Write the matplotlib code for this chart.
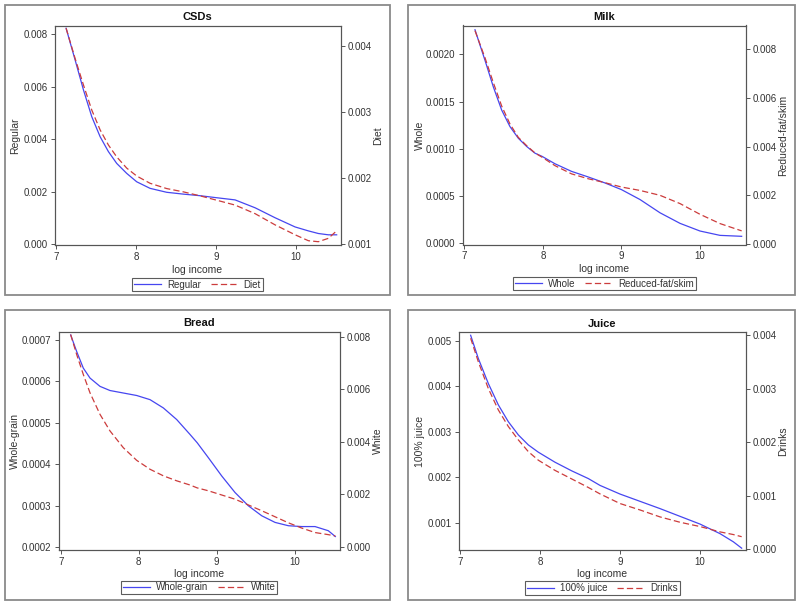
import matplotlib
matplotlib.use("Agg")
import matplotlib.pyplot as plt
from matplotlib.patches import Rectangle
from matplotlib.lines import Line2D
from matplotlib.ticker import FormatStrFormatter

plt.rcParams['font.family'] = ['Liberation Sans', 'DejaVu Sans']

W, H = 800, 605
BLUE = '#4646f0'
RED = '#cc3c3c'

# --- data (log income vs. budget share, x1e-3) ---
csd_x = [7.125, 7.238, 7.342, 7.446, 7.55, 7.654, 7.758, 7.883, 8.008, 8.175, 8.383,
         8.592, 8.80, 8.988, 9.238, 9.488, 9.738, 9.988, 10.154, 10.279, 10.404, 10.508]
csd_regular = [8.22, 7.01, 5.87, 4.85, 4.09, 3.52, 3.07, 2.69, 2.37, 2.12, 1.97,
               1.90, 1.84, 1.77, 1.68, 1.38, 1.00, 0.65, 0.50, 0.40, 0.35, 0.35]
csd_diet = [4.27, 3.81, 3.41, 3.03, 2.73, 2.50, 2.32, 2.15, 2.03, 1.92, 1.84,
            1.79, 1.73, 1.67, 1.59, 1.46, 1.29, 1.14, 1.05, 1.035, 1.086, 1.20]

milk_x = [7.136, 7.263, 7.369, 7.475, 7.581, 7.687, 7.793, 7.899, 7.992, 8.153, 8.365,
          8.577, 8.789, 9.0, 9.236, 9.49, 9.745, 9.999, 10.253, 10.529]
milk_whole = [2.26, 1.937, 1.656, 1.411, 1.235, 1.112, 1.025, 0.954, 0.919, 0.842, 0.761,
              0.702, 0.639, 0.568, 0.463, 0.323, 0.211, 0.130, 0.084, 0.074]
milk_reduced = [8.76, 7.65, 6.63, 5.67, 4.93, 4.38, 4.04, 3.74, 3.56, 3.22, 2.88,
                2.68, 2.52, 2.34, 2.20, 2.00, 1.66, 1.22, 0.84, 0.54]

bread_x = [7.128, 7.205, 7.29, 7.376, 7.504, 7.632, 7.803, 7.974, 8.145, 8.316, 8.487,
           8.658, 8.75, 8.893, 9.064, 9.235, 9.406, 9.577, 9.748, 9.919, 10.09, 10.26,
           10.43, 10.52]
# whole-grain in units of 1e-4
bread_whole = [7.12, 6.72, 6.32, 6.08, 5.88, 5.78, 5.72, 5.66, 5.56, 5.36, 5.08,
               4.72, 4.52, 4.16, 3.72, 3.32, 3.0, 2.76, 2.6, 2.52, 2.5, 2.5,
               2.40, 2.26]
bread_white = [8.08, 7.32, 6.56, 5.86, 5.04, 4.41, 3.77, 3.29, 2.95, 2.70, 2.51,
               2.35, 2.24, 2.13, 1.97, 1.81, 1.59, 1.37, 1.14, 0.91, 0.71, 0.54,
               0.46, 0.41]

juice_x = [7.133, 7.229, 7.354, 7.479, 7.604, 7.729, 7.854, 7.979, 8.187, 8.396, 8.604,
           8.75, 9.0, 9.25, 9.5, 9.75, 10.0, 10.25, 10.417, 10.521]
juice_100 = [5.12, 4.61, 4.06, 3.59, 3.22, 2.93, 2.71, 2.55, 2.33, 2.14, 1.97,
             1.82, 1.63, 1.47, 1.31, 1.14, 0.97, 0.76, 0.58, 0.44]
juice_drinks = [3.94, 3.50, 3.00, 2.60, 2.29, 2.04, 1.82, 1.66, 1.47, 1.31, 1.15,
                1.03, 0.85, 0.73, 0.60, 0.50, 0.42, 0.32, 0.27, 0.23]


def px_box(l, t, r, b):
    return [l / W, 1 - b / H, (r - l) / W, (b - t) / H]


def panel(fig, frame, axbox, title, x, y1, y2, lab1, lab2, xlim, lim1, lim2,
          ticks1, ticks2, fmt1, fmt2, ylab_x, xlab_y, legend_xy, scale1=1e-3):
    fl, ft, fr, fb = frame
    fig.add_artist(Rectangle((fl / W, 1 - fb / H), (fr - fl) / W, (fb - ft) / H,
                             transform=fig.transFigure, fill=False,
                             edgecolor='#8a8a8a', lw=1.3))
    ax = fig.add_axes(px_box(*axbox))
    ax2 = ax.twinx()
    ax.plot(x, [v * scale1 for v in y1], color=BLUE, lw=0.9)
    ax2.plot(x, [v * 1e-3 for v in y2], color=RED, lw=0.9, dashes=(5, 2.5))
    ax.set_xlim(*xlim)
    ax.set_ylim(*lim1)
    ax2.set_ylim(*lim2)
    ax.set_xticks([7, 8, 9, 10])
    ax.set_yticks(ticks1)
    ax2.set_yticks(ticks2)
    ax.yaxis.set_major_formatter(FormatStrFormatter(fmt1))
    ax2.yaxis.set_major_formatter(FormatStrFormatter(fmt2))
    for a in (ax, ax2):
        for s in a.spines.values():
            s.set_color('#555555')
            s.set_linewidth(0.8)
        a.tick_params(labelsize=7, length=3, width=0.7, color='#555555',
                      labelcolor='#333333', pad=2)
    ax.set_title(title, fontsize=8, fontweight='bold', pad=4, color='#111111')

    l, t, r, b = axbox
    ax.set_xlabel('log income', fontsize=7.5, color='#333333', va='center')
    ax.xaxis.set_label_coords(0.5, (b - xlab_y) / (b - t))
    ax.set_ylabel(lab1, fontsize=7.5, color='#333333', va='center')
    ax2.set_ylabel(lab2, fontsize=7.5, color='#333333', rotation=90, va='center')
    ax.yaxis.set_label_coords((ylab_x[0] - l) / (r - l), 0.5)
    ax2.yaxis.set_label_coords((ylab_x[1] - l) / (r - l), 0.5)

    handles = [Line2D([], [], color=BLUE, lw=0.9),
               Line2D([], [], color=RED, lw=0.9, dashes=(5, 2.5))]
    leg = ax.legend(handles, [lab1, lab2], loc='center', ncol=2,
                    bbox_to_anchor=(legend_xy[0] / W, 1 - legend_xy[1] / H),
                    bbox_transform=fig.transFigure, fontsize=7, frameon=True,
                    fancybox=False, handlelength=2.8, handletextpad=0.6,
                    columnspacing=1.0, borderpad=0.2, borderaxespad=0)
    leg.get_frame().set_edgecolor('#333333')
    leg.get_frame().set_linewidth(0.8)
    for txt in leg.get_texts():
        txt.set_color('#333333')


fig = plt.figure(figsize=(8, 6.05), dpi=100)

panel(fig, (5, 5, 390, 295), (54.5, 25.5, 340.5, 245), 'CSDs',
      csd_x, csd_regular, csd_diet, 'Regular', 'Diet',
      (6.98, 10.556), (-0.000038, 0.008324), (0.000985, 0.004311),
      [0, 0.002, 0.004, 0.006, 0.008], [0.001, 0.002, 0.003, 0.004],
      '%.3f', '%.3f', (15, 378), 270, (197.5, 284.5))

panel(fig, (408, 5, 795, 295), (462.5, 25.5, 745.5, 244.5), 'Milk',
      milk_x, milk_whole, milk_reduced, 'Whole', 'Reduced-fat/skim',
      (6.977, 10.578), (-0.0000127, 0.002305), (-0.00002, 0.008974),
      [0, 0.0005, 0.001, 0.0015, 0.002], [0, 0.002, 0.004, 0.006, 0.008],
      '%.4f', '%.3f', (420, 783), 269, (604.5, 283.5))

panel(fig, (5, 310, 390, 600), (58.5, 331.5, 340, 550), 'Bread',
      bread_x, bread_whole, bread_white, 'Whole-grain', 'White',
      (6.972, 10.58), (0.0001935, 0.0007203), (-0.000125, 0.008197),
      [0.0002, 0.0003, 0.0004, 0.0005, 0.0006, 0.0007], [0, 0.002, 0.004, 0.006, 0.008],
      '%.4f', '%.3f', (15, 378), 574, (199, 587.5), scale1=1e-4)

panel(fig, (408, 310, 795, 600), (459, 332.3, 745.5, 550), 'Juice',
      juice_x, juice_100, juice_drinks, '100% juice', 'Drinks',
      (6.9875, 10.569), (0.0004, 0.005185), (-0.0000187, 0.0040505),
      [0.001, 0.002, 0.003, 0.004, 0.005], [0, 0.001, 0.002, 0.003, 0.004],
      '%.3f', '%.3f', (420, 783), 574, (602.5, 588))

fig.savefig('out.png', dpi=100)
